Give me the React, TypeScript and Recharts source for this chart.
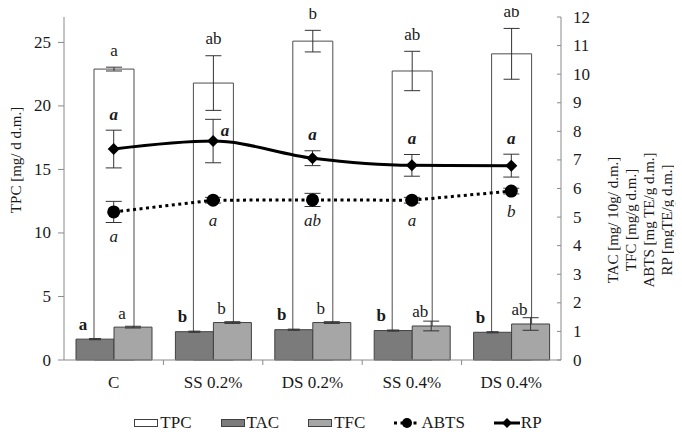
import {
  ComposedChart, Bar, Line, XAxis, YAxis, ErrorBar, LabelList, Legend,
} from "recharts";

// ─── Data ─────────────────────────────────────────────────────────────────────
const categories = ["C", "SS 0.2%", "DS 0.2%", "SS 0.4%", "DS 0.4%"];

const tpc = [22.9, 21.8, 25.1, 22.75, 24.1];
const tpcErr = [0.15, 2.15, 0.85, 1.55, 2.0];
const tpcLetters = ["a", "ab", "b", "ab", "ab"];

const tac = [0.73, 0.99, 1.06, 1.03, 0.97];
const tacErr = [0.02, 0.02, 0.02, 0.02, 0.02];
const tacLetters = ["a", "b", "b", "b", "b"];

const tfc = [1.15, 1.31, 1.31, 1.19, 1.26];
const tfcErr = [0.03, 0.03, 0.03, 0.17, 0.22];
const tfcLetters = ["a", "b", "b", "ab", "ab"];

const abts = [5.18, 5.59, 5.6, 5.59, 5.91];
const abtsErr = [0.37, 0.1, 0.23, 0.1, 0.1];
const abtsLetters = ["a", "a", "ab", "a", "b"];

const rp = [7.38, 7.66, 7.06, 6.81, 6.8];
const rpErr = [0.66, 0.76, 0.26, 0.38, 0.4];
const rpLetters = ["a", "a", "a", "a", "a"];

const leftTicks = [0, 5, 10, 15, 20, 25];
const rightTicks = [0, 1, 2, 3, 4, 5, 6, 7, 8, 9, 10, 11, 12];

const data = categories.map((name, i) => ({
  name,
  tpc: tpc[i], tpcErr: tpcErr[i],
  tac: tac[i], tacErr: tacErr[i],
  tfc: tfc[i], tfcErr: tfcErr[i],
  abts: abts[i], abtsErr: abtsErr[i],
  rp: rp[i], rpErr: rpErr[i],
}));

// ─── Layout / style ───────────────────────────────────────────────────────────
const W = 666;
const H = 425;
const PLOT_H = 343;
const R_PX = PLOT_H / 12;
const BAND = (W - 56 - 113) / 5;
const FONT = '"Liberation Serif", "Times New Roman", serif';
const INK = "#1a1a1a";
const AXIS = "#8a8a8a";
const ERR = "#333333";

const txt = { fontSize: 17, fill: INK, fontFamily: FONT };
const titleTxt = { fontSize: 15, fill: INK, fontFamily: FONT };

// ─── Ticks ────────────────────────────────────────────────────────────────────
const CategoryTick = (props: any) => {
  const { x, y, payload, index } = props;
  const half = payload?.offset || BAND / 2;
  return (
    <g>
      {index < categories.length - 1 && (
        <line x1={x + half} x2={x + half} y1={y} y2={y + 5} stroke={AXIS} />
      )}
      <text x={x} y={y + 22} textAnchor="middle" dominantBaseline="central" {...txt}>
        {payload.value}
      </text>
    </g>
  );
};

const LeftTick = (props: any) => {
  const { x, y, payload } = props;
  return (
    <text x={x} y={y} textAnchor="end" dominantBaseline="central" {...txt}>
      {payload.value}
    </text>
  );
};

const RightTick = (props: any) => {
  const { x, y, payload } = props;
  return (
    <g>
      <line x1={x - 4} x2={x} y1={y} y2={y} stroke={AXIS} />
      <text x={x + 12} y={y} textAnchor="start" dominantBaseline="central" {...txt}>
        {payload.value}
      </text>
    </g>
  );
};

// ─── Axis titles ──────────────────────────────────────────────────────────────
const LeftTitle = () => (
  <text x={8} y={152} transform="rotate(-90 8 152)" textAnchor="middle" dominantBaseline="central" {...titleTxt}>
    TPC [mg/ d d.m.]
  </text>
);

const rightTitleLines = ["TAC [mg/ 10g/ d.m.]", "TFC [mg/g d.m.]", "ABTS [mg TE/g d.m.]", "RP [mgTE/g d.m.]"];
const RightTitle = () => (
  <g>
    {rightTitleLines.map((t, i) => {
      const x = 604.5 + i * 18;
      return (
        <text key={t} x={x} y={212} transform={`rotate(-90 ${x} 212)`} textAnchor="middle" dominantBaseline="central" {...titleTxt}>
          {t}
        </text>
      );
    })}
  </g>
);

// ─── Significance letters ─────────────────────────────────────────────────────
const TpcLabel = (p: any) => {
  const i = p.index;
  const errTop = p.y - tpcErr[i] * (p.height / tpc[i]);
  return (
    <text x={p.x + p.width / 2} y={errTop - 17} textAnchor="middle" dominantBaseline="central" {...txt}>
      {tpcLetters[i]}
    </text>
  );
};

const TacLabel = (p: any) => (
  <text x={p.x + 7} y={p.y - 15} textAnchor="middle" dominantBaseline="central" fontWeight="bold" {...txt}>
    {tacLetters[p.index]}
  </text>
);

const TfcLabel = (p: any) => (
  <text x={p.x + p.width / 2 - 11} y={p.y - 14} textAnchor="middle" dominantBaseline="central" {...txt}>
    {tfcLetters[p.index]}
  </text>
);

const RpLabel = (p: any) => {
  const i = p.index;
  // SS 0.2% letter sits beside the point, clear of the TPC error bar
  const beside = categories[i] === "SS 0.2%";
  const x = beside ? p.x + 12 : p.x;
  const y = beside ? p.y - 11 : p.y - rpErr[i] * R_PX - 16;
  return (
    <text x={x} y={y} textAnchor="middle" dominantBaseline="central" fontWeight="bold" fontStyle="italic" {...txt}>
      {rpLetters[i]}
    </text>
  );
};

const AbtsLabel = (p: any) => {
  const i = p.index;
  const y = p.y + Math.max(20, abtsErr[i] * R_PX + 14);
  return (
    <text x={p.x} y={y} textAnchor="middle" dominantBaseline="central" fontStyle="italic" {...txt}>
      {abtsLetters[i]}
    </text>
  );
};

// ─── Markers ──────────────────────────────────────────────────────────────────
const Diamond = ({ cx, cy, s = 6 }: any) => (
  <polygon points={`${cx},${cy - s} ${cx + s},${cy} ${cx},${cy + s} ${cx - s},${cy}`} fill="#000" />
);

const renderDiamond = (p: any) => <Diamond key={p.index} cx={p.cx} cy={p.cy} />;
const renderCircle = (p: any) => <circle key={p.index} cx={p.cx} cy={p.cy} r={6.5} fill="#000" />;

// ─── Legend ───────────────────────────────────────────────────────────────────
const BoxIcon = ({ fill }: { fill: string }) => (
  <span style={{ display: "inline-block", width: 22, height: 6, background: fill, border: "1px solid #404040", marginRight: 2 }} />
);

const LineIcon = ({ kind }: { kind: "abts" | "rp" }) => (
  <svg width={26} height={14} style={{ marginRight: 1 }}>
    <line x1={0} x2={26} y1={7} y2={7} stroke="#000" strokeWidth={3}
      strokeDasharray={kind === "abts" ? "3 3.5" : undefined} />
    {kind === "abts" ? <circle cx={13} cy={7} r={5} fill="#000" /> : <Diamond cx={13} cy={7} s={5} />}
  </svg>
);

const item = { display: "flex", alignItems: "center" } as const;

const CustomLegend = () => (
  <div style={{ display: "flex", justifyContent: "center", alignItems: "center", gap: 29, height: 20, fontFamily: FONT, fontSize: 17, color: INK, paddingRight: 6 }}>
    <span style={item}><BoxIcon fill="#ffffff" />TPC</span>
    <span style={item}><BoxIcon fill="#7b7b7b" />TAC</span>
    <span style={item}><BoxIcon fill="#a6a6a6" />TFC</span>
    <span style={item}><LineIcon kind="abts" />ABTS</span>
    <span style={item}><LineIcon kind="rp" />RP</span>
  </div>
);

// ─── Chart ────────────────────────────────────────────────────────────────────
export default function App() {
  return (
    <div style={{ width: W, height: H, fontFamily: FONT }}>
      <style>{`.recharts-surface { overflow: visible; }`}</style>
      <ComposedChart width={W} height={H} data={data} margin={{ top: 9, right: 0, bottom: 0, left: 0 }} barGap={0}>
        <XAxis xAxisId="main" dataKey="name" height={53} tickSize={0} tickMargin={0}
          axisLine={{ stroke: AXIS }} tickLine={false} tick={<CategoryTick />} interval={0} />
        <XAxis xAxisId="tpc" dataKey="name" hide />
        <YAxis yAxisId="left" orientation="left" width={56} domain={[0, 27]} ticks={leftTicks}
          tickSize={6} tickMargin={7} axisLine={{ stroke: AXIS }} tickLine={{ stroke: AXIS }}
          tick={<LeftTick />} label={<LeftTitle />} />
        <YAxis yAxisId="right" orientation="right" width={113} domain={[0, 12]} ticks={rightTicks}
          tickSize={0} tickMargin={0} axisLine={{ stroke: AXIS }} tickLine={false}
          tick={<RightTick />} label={<RightTitle />} interval={0} />

        <Bar xAxisId="tpc" yAxisId="left" dataKey="tpc" barSize={40} fill="#ffffff" stroke="#4d4d4d" strokeWidth={1} isAnimationActive={false}>
          <ErrorBar dataKey="tpcErr" width={8} stroke={ERR} strokeWidth={1} direction="y" />
          <LabelList dataKey="tpc" content={TpcLabel} />
        </Bar>
        <Bar xAxisId="main" yAxisId="right" dataKey="tac" barSize={38} fill="#7b7b7b" stroke="#404040" strokeWidth={1} isAnimationActive={false}>
          <ErrorBar dataKey="tacErr" width={6} stroke={ERR} strokeWidth={1} direction="y" />
          <LabelList dataKey="tac" content={TacLabel} />
        </Bar>
        <Bar xAxisId="main" yAxisId="right" dataKey="tfc" barSize={38} fill="#a6a6a6" stroke="#404040" strokeWidth={1} isAnimationActive={false}>
          <ErrorBar dataKey="tfcErr" width={8} stroke={ERR} strokeWidth={1} direction="y" />
          <LabelList dataKey="tfc" content={TfcLabel} />
        </Bar>

        <Line xAxisId="main" yAxisId="right" dataKey="abts" type="linear" stroke="#000" strokeWidth={3}
          strokeDasharray="3 3.5" dot={renderCircle} activeDot={false} isAnimationActive={false}>
          <ErrorBar dataKey="abtsErr" width={8} stroke={ERR} strokeWidth={1} direction="y" />
          <LabelList dataKey="abts" content={AbtsLabel} />
        </Line>
        <Line xAxisId="main" yAxisId="right" dataKey="rp" type="monotone" stroke="#000" strokeWidth={3}
          dot={renderDiamond} activeDot={false} isAnimationActive={false}>
          <ErrorBar dataKey="rpErr" width={8} stroke={ERR} strokeWidth={1} direction="y" />
          <LabelList dataKey="rp" content={RpLabel} />
        </Line>

        <Legend verticalAlign="bottom" content={<CustomLegend />} wrapperStyle={{ left: 0, width: W }} />
      </ComposedChart>
    </div>
  );
}
